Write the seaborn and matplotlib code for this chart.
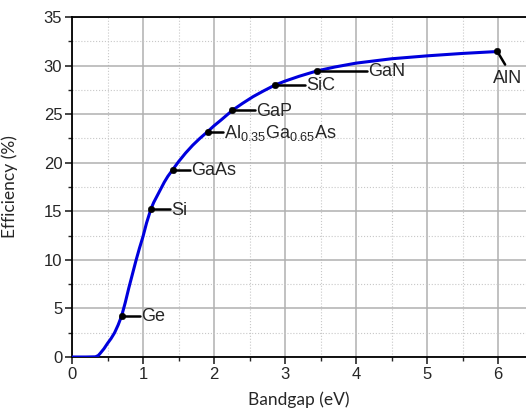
import numpy as np
import matplotlib
matplotlib.use("Agg")
import matplotlib.pyplot as plt
from matplotlib.ticker import MultipleLocator
import seaborn as sns

# Efficiency limit curve
curve_gap = [0.0, 0.2, 0.33, 0.37, 0.4, 0.45, 0.5, 0.55, 0.6, 0.65, 0.7, 0.75, 0.8, 0.85,
             0.9, 0.95, 1.0, 1.05, 1.11, 1.15, 1.2, 1.25, 1.3, 1.35, 1.42, 1.5, 1.6, 1.7,
             1.8, 1.91, 2.0, 2.1, 2.26, 2.4, 2.55, 2.7, 2.86, 3.0, 3.2, 3.45, 3.7, 4.0,
             4.5, 5.0, 5.5, 6.0]
curve_eff = [0.0, 0.0, 0.02, 0.15, 0.4, 0.85, 1.4, 1.9, 2.5, 3.3, 4.25, 5.6, 7.1, 8.5,
             9.9, 11.2, 12.4, 13.8, 15.2, 15.9, 16.6, 17.3, 18.0, 18.6, 19.3, 20.1, 21.0, 21.8,
             22.5, 23.2, 23.8, 24.4, 25.4, 26.1, 26.8, 27.4, 28.0, 28.4, 28.9, 29.45, 29.85, 30.25,
             30.7, 31.0, 31.25, 31.45]

# Materials
materials = ["Ge", "Si", "GaAs", r"$\mathregular{Al_{0.35}Ga_{0.65}As}$", "GaP", "SiC", "GaN", "AlN"]
mat_gap = [0.70, 1.11, 1.42, 1.91, 2.26, 2.86, 3.45, 5.99]
mat_eff = [4.25, 15.2, 19.3, 23.2, 25.4, 28.0, 29.45, 31.45]

sns.set_style("white")
plt.rcParams["font.family"] = ["Liberation Sans", "DejaVu Sans"]
plt.rcParams["mathtext.fontset"] = "custom"
plt.rcParams["mathtext.rm"] = "Liberation Sans"

fig = plt.figure(figsize=(5.26, 4.12), dpi=100)
ax = fig.add_axes([72 / 526, 55 / 412, 1 - 72 / 526, 340 / 412])

sns.lineplot(x=curve_gap, y=curve_eff, ax=ax, color="#0000dd", lw=2.2, zorder=3)

# leader lines + labels
leader = [0.26, 0.27, 0.24, 0.21, 0.32, 0.42, 0.70]
for name, g, e, d in zip(materials[:-1], mat_gap[:-1], mat_eff[:-1], leader):
    ax.plot([g, g + d], [e, e], color="black", lw=1.8, zorder=4)
    ax.text(g + d + 0.02, e - 0.1, name, fontsize=13, va="center", ha="left", zorder=5)
ax.plot([mat_gap[-1], 6.10], [mat_eff[-1], 30.1], color="black", lw=1.8, zorder=4)
ax.text(6.13, 29.5, materials[-1], fontsize=13, va="top", ha="center", zorder=5)

sns.scatterplot(x=mat_gap, y=mat_eff, ax=ax, color="black", s=22, edgecolor="black",
                zorder=6, legend=False)

ax.set_xlim(0, 6.394)
ax.set_ylim(0, 35)
ax.xaxis.set_major_locator(MultipleLocator(1))
ax.xaxis.set_minor_locator(MultipleLocator(0.5))
ax.yaxis.set_major_locator(MultipleLocator(5))
ax.yaxis.set_minor_locator(MultipleLocator(2.5))
ax.grid(which="major", color="#b0b0b0", lw=1.1, ls="-")
ax.grid(which="minor", color="#c8c8c8", lw=0.8, ls=":")
ax.set_axisbelow(True)
ax.tick_params(which="major", direction="out", length=5, width=1.2, labelsize=12,
               bottom=True, left=True, pad=2)
ax.tick_params(which="minor", direction="out", length=3, width=1, bottom=True, left=True)
for side in ["left", "bottom", "top"]:
    ax.spines[side].set_color("black")
    ax.spines[side].set_linewidth(1.3)
ax.spines["right"].set_visible(False)

ax.set_xlabel("Bandgap (eV)", fontsize=12.5, family=["Lato", "DejaVu Sans"])
ax.set_ylabel("Efficiency (%)", fontsize=12.5, family=["Lato", "DejaVu Sans"])
ax.xaxis.set_label_coords(0.5, -0.1)
ax.yaxis.set_label_coords(-0.12, 0.5)

fig.savefig("out.png", dpi=100)
